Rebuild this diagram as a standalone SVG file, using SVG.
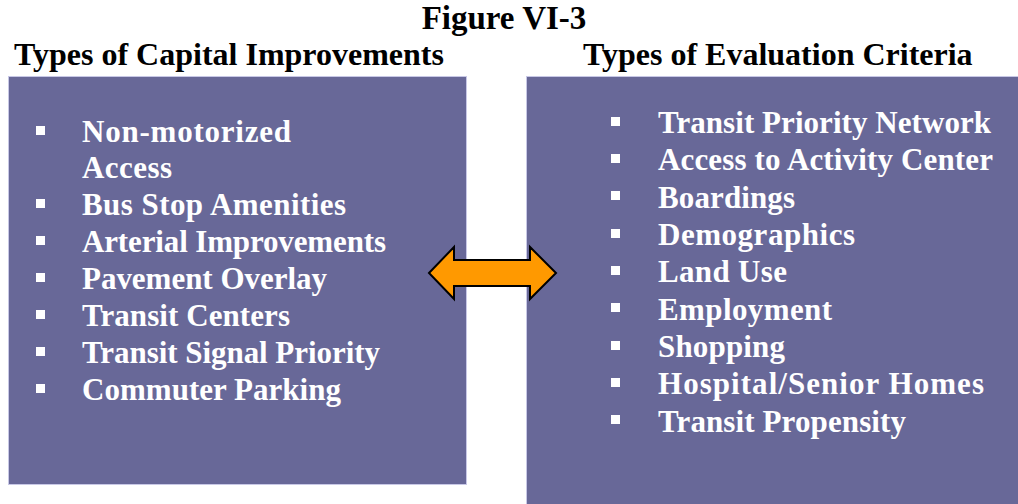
<svg xmlns="http://www.w3.org/2000/svg" width="1018" height="504" viewBox="0 0 1018 504">
<style>
.hdr{font-family:"Liberation Serif","Times New Roman",serif;font-weight:bold;fill:#000;}
.box{fill:#686898;stroke:#c8c8e6;stroke-width:1;}
.item{font-family:"Liberation Serif","Times New Roman",serif;font-weight:bold;font-size:31px;fill:#fff;}
.bul{fill:#fff;}
.arrow{fill:#ff9900;stroke:#000;stroke-width:2;stroke-linejoin:miter;}
</style>
<rect width="1018" height="504" fill="#fff"/>
<text class="hdr" x="504" y="29" font-size="33" text-anchor="middle">Figure VI-3</text>
<g id="capital">
<text class="hdr" x="14" y="65" font-size="32">Types of Capital Improvements</text>
<rect class="box" x="8.5" y="76.5" width="458" height="408"/>
<g class="bul">
<rect x="36" y="126" width="9" height="9"/>
<rect x="36" y="199" width="9" height="9"/>
<rect x="36" y="236" width="9" height="9"/>
<rect x="36" y="273" width="9" height="9"/>
<rect x="36" y="310" width="9" height="9"/>
<rect x="36" y="347" width="9" height="9"/>
<rect x="36" y="384" width="9" height="9"/>
</g>
<text class="item" x="82" y="142" textLength="209" lengthAdjust="spacing">Non-motorized</text>
<text class="item" x="82" y="178" textLength="90" lengthAdjust="spacing">Access</text>
<text class="item" x="82" y="215" textLength="264" lengthAdjust="spacing">Bus Stop Amenities</text>
<text class="item" x="82" y="252" textLength="304" lengthAdjust="spacing">Arterial Improvements</text>
<text class="item" x="82" y="289" textLength="245" lengthAdjust="spacing">Pavement Overlay</text>
<text class="item" x="82" y="326" textLength="208" lengthAdjust="spacing">Transit Centers</text>
<text class="item" x="82" y="363" textLength="298" lengthAdjust="spacing">Transit Signal Priority</text>
<text class="item" x="82" y="400" textLength="259" lengthAdjust="spacing">Commuter Parking</text>
</g>
<g id="criteria">
<text class="hdr" x="583" y="65" font-size="32">Types of Evaluation Criteria</text>
<rect class="box" x="526.5" y="76.5" width="500" height="440"/>
<g class="bul">
<rect x="611" y="117" width="9" height="9"/>
<rect x="611" y="154" width="9" height="9"/>
<rect x="611" y="191" width="9" height="9"/>
<rect x="611" y="229" width="9" height="9"/>
<rect x="611" y="266" width="9" height="9"/>
<rect x="611" y="303" width="9" height="9"/>
<rect x="611" y="341" width="9" height="9"/>
<rect x="611" y="378" width="9" height="9"/>
<rect x="611" y="415" width="9" height="9"/>
</g>
<text class="item" x="658" y="133" textLength="333" lengthAdjust="spacing">Transit Priority Network</text>
<text class="item" x="658" y="170" textLength="335" lengthAdjust="spacing">Access to Activity Center</text>
<text class="item" x="658" y="207.5" textLength="137" lengthAdjust="spacing">Boardings</text>
<text class="item" x="658" y="245" textLength="197" lengthAdjust="spacing">Demographics</text>
<text class="item" x="658" y="282" textLength="129" lengthAdjust="spacing">Land Use</text>
<text class="item" x="658" y="319.5" textLength="174" lengthAdjust="spacing">Employment</text>
<text class="item" x="658" y="357" textLength="127" lengthAdjust="spacing">Shopping</text>
<text class="item" x="658" y="394" textLength="326" lengthAdjust="spacing">Hospital/Senior Homes</text>
<text class="item" x="658" y="431.5" textLength="248" lengthAdjust="spacing">Transit Propensity</text>
</g>
<g id="connectors">
<polygon class="arrow" points="429,273 454,247 454,260 530,260 530,247 556,273 530,299 530,286 454,286 454,299"/>
</g>
</svg>
